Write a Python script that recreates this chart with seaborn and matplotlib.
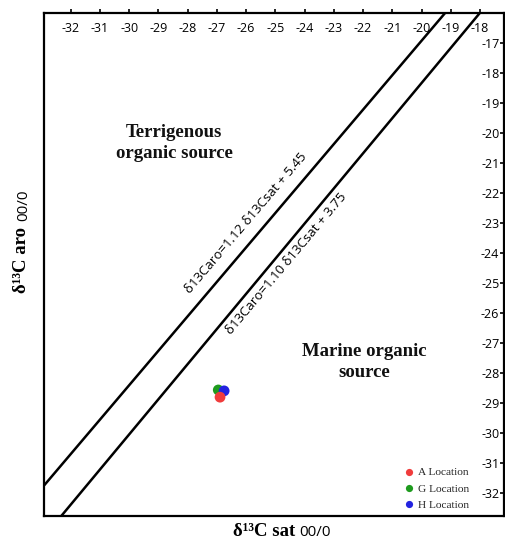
import numpy as np
import pandas as pd
import matplotlib
matplotlib.use("Agg")
import matplotlib.pyplot as plt
import seaborn as sns

# ---------------- data ----------------
locations = ["A Location", "G Location", "H Location"]
sat_values = [-26.89, -26.95, -26.75]
aro_values = [-28.80, -28.56, -28.59]
point_colors = ["#f03c3c", "#1e9b1e", "#2323e0"]
draw_order = ["G Location", "H Location", "A Location"]

x_ticks = list(range(-32, -17))
x_tick_labels = [str(v) for v in x_ticks]
y_ticks = list(range(-32, -16))
y_tick_labels = [str(v) for v in y_ticks]

line_slopes = [1.147, 1.170]
line_intercepts = [6.005, 5.057]
line_labels = ["δ13Caro=1.12 δ13Csat + 5.45", "δ13Caro=1.10 δ13Csat + 3.75"]

region_labels = ["Terrigenous\norganic source", "Marine organic\nsource"]

# ---------------- style ----------------
sns.set_theme(style="white")
plt.rcParams["font.family"] = ["Open Sans", "DejaVu Sans"]
plt.rcParams["axes.unicode_minus"] = False

fig = plt.figure(figsize=(5.06, 5.53), dpi=100)
ax = fig.add_axes([0.0875, 0.0669, 0.9091, 0.9096])

df = pd.DataFrame({"location": locations, "sat": sat_values, "aro": aro_values})
df = df.set_index("location").loc[draw_order].reset_index()

sns.scatterplot(data=df, x="sat", y="aro", hue="location", hue_order=locations,
                palette=dict(zip(locations, point_colors)), s=60, linewidth=0,
                ax=ax, zorder=4)

for m, b in zip(line_slopes, line_intercepts):
    ax.axline((0, b), slope=m, color="black", lw=1.8, zorder=3)

ax.set_xlim(-32.90, -17.17)
ax.set_ylim(-32.756, -16.01)

# line labels
ax.text(-26.0, -23.0, line_labels[0], rotation=49.5, ha="center", va="center",
        rotation_mode="anchor", fontsize=9.5, color="black")
ax.text(-24.61, -24.37, line_labels[1], rotation=50.0, ha="center", va="center",
        rotation_mode="anchor", fontsize=9.5, color="black")

# region labels
ax.text(-28.46, -20.35, region_labels[0], ha="center", va="center",
        fontfamily="Liberation Serif", fontweight="bold", fontsize=13.5,
        linespacing=1.3, color="#111111")
ax.text(-21.97, -27.63, region_labels[1], ha="center", va="center",
        fontfamily="Liberation Serif", fontweight="bold", fontsize=13.5,
        linespacing=1.3, color="#111111")

# ticks
ax.set_xticks(x_ticks, labels=x_tick_labels)
ax.set_yticks(y_ticks, labels=y_tick_labels)
ax.tick_params(axis="x", bottom=False, top=True, labelbottom=False, labeltop=True,
               direction="out", length=3, width=1.2, pad=-9.5, labelsize=9,
               colors="black")
ax.tick_params(axis="y", left=False, right=True, labelleft=False, labelright=True,
               direction="in", length=3, width=1.2, pad=-3.6, labelsize=9,
               colors="black")
plt.setp(ax.xaxis.get_majorticklabels(), va="top")
plt.setp(ax.yaxis.get_majorticklabels(), ha="right")

for sp in ax.spines.values():
    sp.set_visible(True)
    sp.set_color("black")
    sp.set_linewidth(1.6)

# axis labels
ax.set_xlabel("δ¹³C sat", fontfamily="Liberation Serif", fontweight="bold",
              fontsize=13.5, ha="center", va="center", color="black")
ax.xaxis.set_label_coords(0.4785, -0.0318)
ax.annotate("00/0", xy=(1, 0), xycoords=ax.xaxis.label, xytext=(3, 3),
            textcoords="offset points", ha="left", va="baseline", fontsize=11,
            color="black")

ax.set_ylabel("δ¹³C aro", fontfamily="Liberation Serif", fontweight="bold",
              fontsize=13.5, ha="center", va="center", rotation=90, color="black")
ax.yaxis.set_label_coords(-0.0485, 0.509)
ax.annotate("00/0", xy=(0.5, 1), xycoords=ax.yaxis.label, xytext=(1.5, 4),
            textcoords="offset points", ha="center", va="bottom", rotation=90,
            fontsize=11, color="black")

# legend
handles, labels = ax.get_legend_handles_labels()
ax.legend(handles, labels, loc="lower right", bbox_to_anchor=(0.924, 0.012),
          frameon=False, prop={"family": "Liberation Serif", "size": 8.2},
          markerscale=0.67, handletextpad=0.3, labelspacing=0.55,
          handlelength=1.0, borderpad=0, borderaxespad=0)

fig.savefig("out.png", dpi=100)
